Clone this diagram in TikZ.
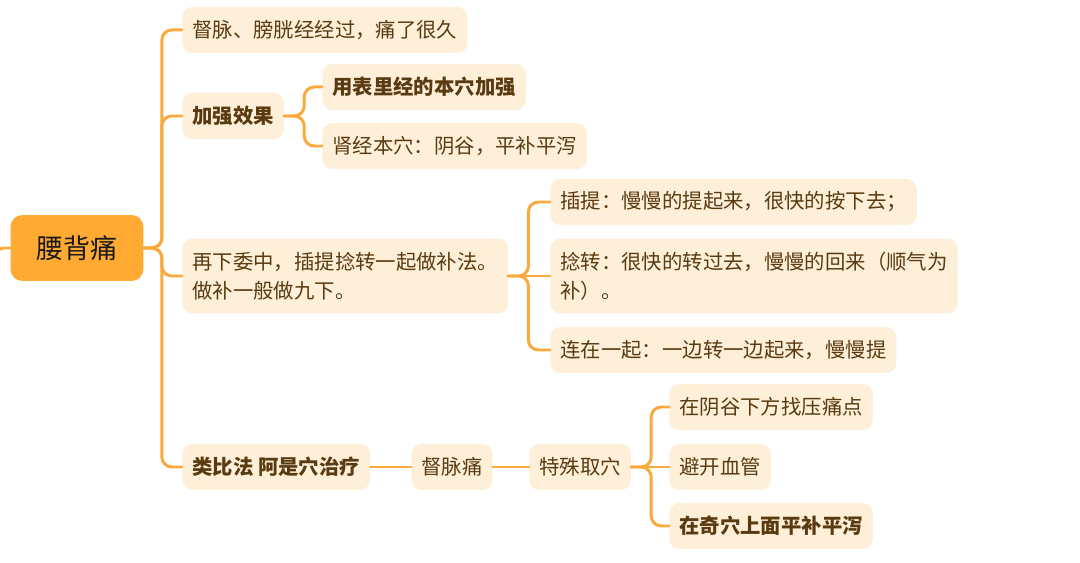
\documentclass[tikz,border=0pt]{standalone}
\usepackage{fontspec}
\setmainfont{Noto Sans CJK SC}
\usetikzlibrary{positioning}

\definecolor{rootorange}{HTML}{FFAA33}
\definecolor{leafpeach}{HTML}{FEEFD9}
\definecolor{inkbrown}{HTML}{5A3A10}
\definecolor{branchline}{HTML}{FAAA3C}

\begin{document}
\begin{tikzpicture}[
  x=0.02cm,
  y=-0.02cm,
  line cap=round,
  line join=round,
  topic/.style={fill=rootorange, text=black!90, rounded corners=0.24cm,
    minimum width=2.66cm, minimum height=1.32cm,
    font=\fontsize{15.4}{18}\selectfont},
  leaf/.style={fill=leafpeach, text=inkbrown, rounded corners=0.2cm,
    minimum height=0.92cm, inner xsep=0.2cm, anchor=west, align=left,
    font=\fontsize{11.6}{16.5}\selectfont},
  keyleaf/.style={leaf, font=\fontsize{11.6}{16.5}\selectfont\bfseries},
  tallleaf/.style={leaf, minimum height=1.5cm},
  branch/.style={draw=branchline, line width=1.7pt, rounded corners=0.2cm}
]
\useasboundingbox (0,0) rectangle (1080,563);

% Central topic
\node[topic] (root) at (77,248) {腰背痛};
\coordinate (stub) at (-6,266);

% First level
\node[leaf] (n1) at (182,30) {督脉、膀胱经经过，痛了很久};
\node[keyleaf] (n2) at (182,116) {加强效果};
\node[tallleaf] (n3) at (182,276) {再下委中，插提捻转一起做补法。\\做补一般做九下。};
\node[keyleaf] (n4) at (182,467) {类比法 阿是穴治疗};

% Under 加强效果
\node[keyleaf] (n21) at (322,87) {用表里经的本穴加强};
\node[leaf] (n22) at (322,146) {肾经本穴：阴谷，平补平泻};

% Under 再下委中
\node[leaf] (n31) at (550,202) {插提：慢慢的提起来，很快的按下去；};
\node[tallleaf] (n32) at (550,276) {捻转：很快的转过去，慢慢的回来（顺气为\\补）。};
\node[leaf] (n33) at (550,350) {连在一起：一边转一边起来，慢慢提};

% Under 类比法
\node[leaf] (n41) at (411,467) {督脉痛};
\node[leaf] (n42) at (529,467) {特殊取穴};
\node[leaf] (n421) at (669,407) {在阴谷下方找压痛点};
\node[leaf] (n422) at (669,467) {避开血管};
\node[keyleaf] (n423) at (669,526) {在奇穴上面平补平泻};

% Branches
\draw[branch] (stub) |- (root.west);
\foreach \kid in {n1,n2,n3,n4}
  \draw[branch] (root.east) -- ++(18,0) |- (\kid.west);
\foreach \kid in {n21,n22}
  \draw[branch] (n2.east) -- ++(20,0) |- (\kid.west);
\foreach \kid in {n31,n33}
  \draw[branch] (n3.east) -- ++(20,0) |- (\kid.west);
\draw[branch] (n3.east) -- (n32.west);
\draw[branch] (n4.east) -- (n41.west);
\draw[branch] (n41.east) -- (n42.west);
\foreach \kid in {n421,n423}
  \draw[branch] (n42.east) -- ++(20,0) |- (\kid.west);
\draw[branch] (n42.east) -- (n422.west);

\end{tikzpicture}
\end{document}
